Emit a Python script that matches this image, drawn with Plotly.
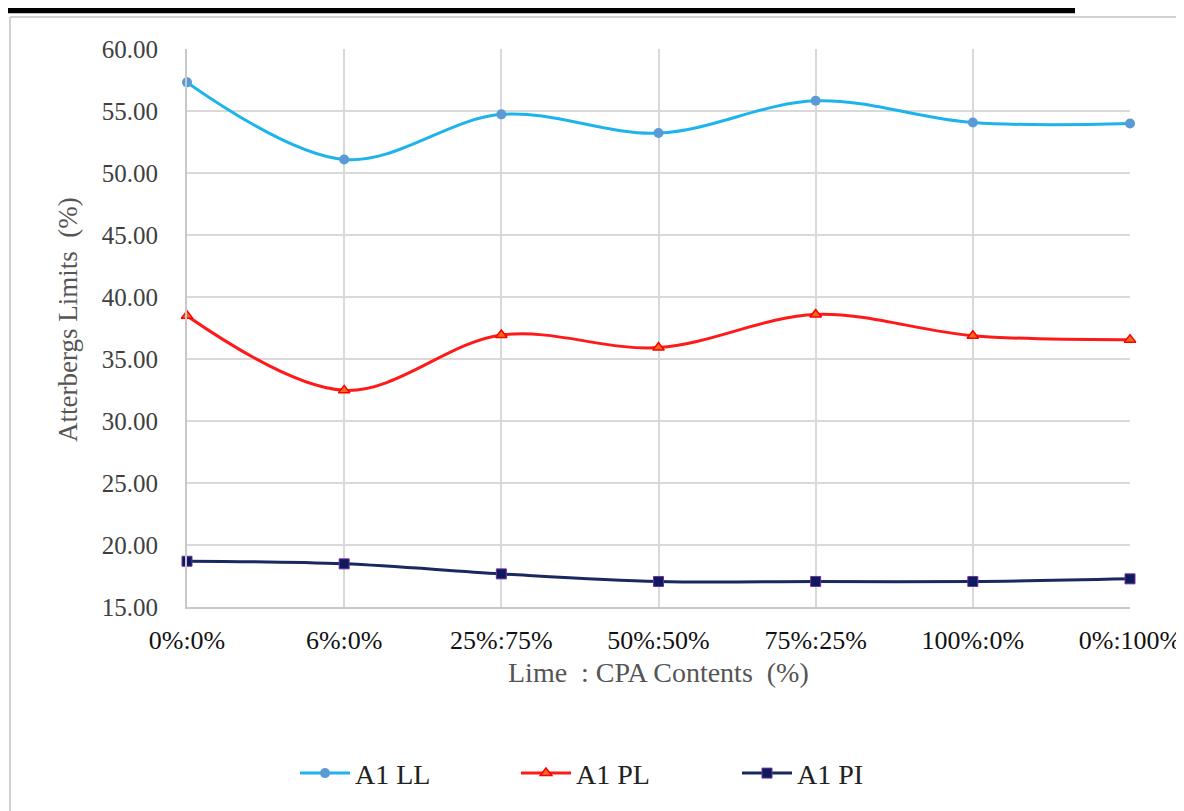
import plotly.graph_objects as go

categories = ["0%:0%", "6%:0%", "25%:75%", "50%:50%", "75%:25%", "100%:0%", "0%:100%"]
ll_values = [57.31, 51.09, 54.73, 53.22, 55.82, 54.07, 53.99]
pl_values = [38.48, 32.47, 36.93, 35.92, 38.59, 36.88, 36.56]
pi_values = [18.69, 18.48, 17.67, 17.06, 17.06, 17.06, 17.27]
y_ticks = [15, 20, 25, 30, 35, 40, 45, 50, 55, 60]

# page has an 8px body margin; work in screen coordinates
W, H = 1176, 803
L, R, T, B = 187, 1130, 49, 609   # plot area in screen px
pw, ph = R - L, B - T

def px(x):
    return (x - L) / pw

def py(y):
    return (B - y) / ph

fig = go.Figure()
fig.add_trace(go.Scatter(
    x=categories, y=ll_values, name="A1 LL", mode="lines+markers",
    line=dict(color="#1DB4EC", width=3, shape="spline", smoothing=1.0),
    marker=dict(symbol="circle", size=10, color="#5B9BD5"),
    cliponaxis=False,
))
fig.add_trace(go.Scatter(
    x=categories, y=pl_values, name="A1 PL", mode="lines+markers",
    line=dict(color="#FF1A1A", width=3, shape="spline", smoothing=1.0),
    marker=dict(symbol="triangle-up", size=10, color="#F06A1E", line=dict(color="#FF0000", width=1.5)),
    cliponaxis=False,
))
fig.add_trace(go.Scatter(
    x=categories, y=pi_values, name="A1 PI", mode="lines+markers",
    line=dict(color="#1A2860", width=3, shape="spline", smoothing=1.0),
    marker=dict(symbol="square", size=10, color="#0D1A5C", line=dict(color="#7030A0", width=1)),
    cliponaxis=False,
))

shapes = [
    dict(type="rect", xref="paper", yref="paper",
         x0=px(6), x1=px(1075), y0=py(13), y1=py(7),
         fillcolor="black", line=dict(width=0), layer="above"),
    dict(type="line", xref="paper", yref="paper",
         x0=px(10), x1=px(10), y0=py(17), y1=py(815),
         line=dict(color="#D0D0D0", width=2)),
    dict(type="line", xref="paper", yref="paper",
         x0=px(10), x1=px(1190), y0=py(17), y1=py(17),
         line=dict(color="#D0D0D0", width=2)),
]

annotations = [
    dict(text="Atterbergs Limits &nbsp;(%)", xref="paper", yref="paper",
         x=px(68), y=py(320), xanchor="center", yanchor="middle", textangle=-90,
         showarrow=False, font=dict(family="Liberation Serif", size=27, color="#555555")),
    dict(text="Lime &nbsp;: CPA Contents &nbsp;(%)", xref="paper", yref="paper",
         x=px(658), y=py(675), xanchor="center", yanchor="middle",
         showarrow=False, font=dict(family="Liberation Serif", size=28, color="#555555")),
]

fig.update_layout(
    width=W, height=H,
    margin=dict(l=L - 8, r=W - (R - 8), t=T - 8, b=H - (B - 8)),
    paper_bgcolor="white", plot_bgcolor="white",
    font=dict(family="Liberation Serif", size=24, color="#404040"),
    showlegend=True,
    legend=dict(orientation="h", x=px(295), xanchor="left", y=py(776), yanchor="middle",
                font=dict(size=28, color="#222222"), itemwidth=50,
                entrywidth=156, entrywidthmode="pixels",
                tracegroupgap=0, traceorder="normal"),
    shapes=shapes,
    annotations=annotations,
)
fig.update_xaxes(
    type="category", range=[0, 6], automargin=False,
    showgrid=True, gridcolor="#D9D9D9", gridwidth=1.5,
    showline=True, linecolor="#C8C8C8", linewidth=2,
    ticks="", ticklabelstandoff=9, tickfont=dict(size=26, color="#111111"),
    zeroline=False,
)
fig.update_yaxes(
    range=[15, 60], tickvals=y_ticks, tickformat=".2f", automargin=False,
    showgrid=True, gridcolor="#D9D9D9", gridwidth=1.5,
    showline=True, linecolor="#C8C8C8", linewidth=2,
    ticks="", ticklabelstandoff=22, tickfont=dict(size=25, color="#404040"),
    zeroline=False,
)

fig.write_html("out.html")
